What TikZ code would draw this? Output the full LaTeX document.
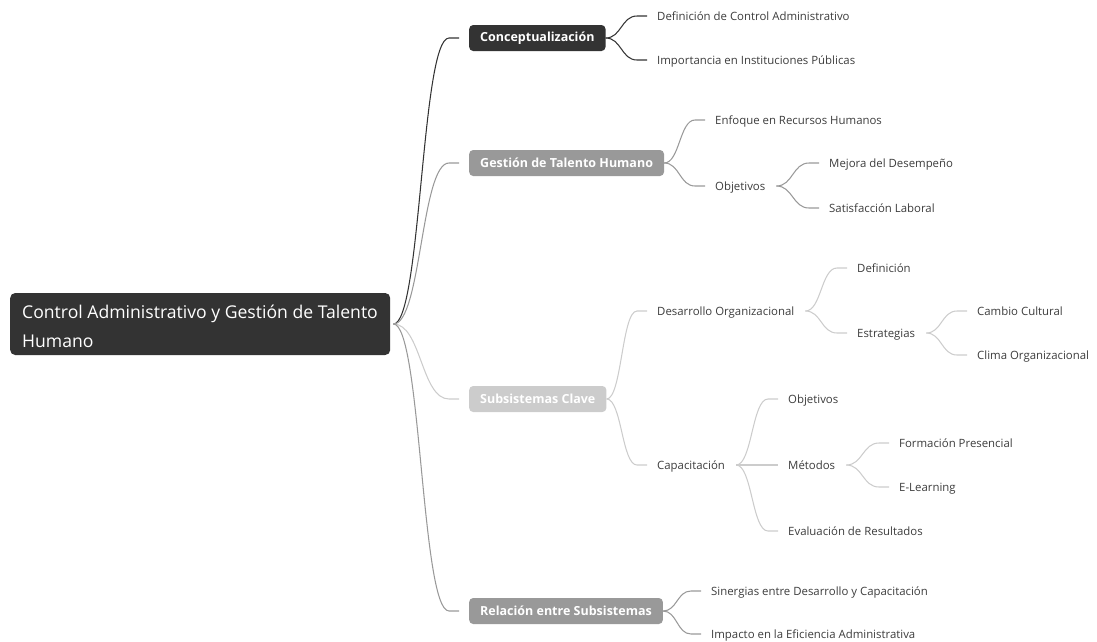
\documentclass[tikz,border=0pt]{standalone}
\usepackage{fontspec}
\setmainfont{Open Sans}
\usetikzlibrary{calc}
\definecolor{dark}{HTML}{333333}
\definecolor{mid}{HTML}{999999}
\definecolor{light}{HTML}{CCCCCC}
\definecolor{txt}{HTML}{3C3C3C}
\newcommand\linkto[3]{\draw[link=#1] let \p1=#2, \p2=($(#3.west)+(-20,0)$) in (\p1) .. controls ({0.5*\x1+0.5*\x2},\y1) and ({0.5*\x1+0.5*\x2},\y2) .. (\p2) -- ++(10,0);}
\begin{document}
\begin{tikzpicture}[x=1pt,y=-1pt,
 leaf/.style={anchor=west, inner xsep=0pt, inner ysep=2pt, text depth=0pt, text=txt, font=\fontsize{11.4}{13}\selectfont},
 branch/.style={anchor=west, fill=#1, rounded corners=4pt, inner xsep=11pt, minimum height=26pt, text=white, font=\bfseries\fontsize{12.5}{15}\selectfont},
 link/.style={draw=#1, line width=1.05pt}]
\useasboundingbox (0,0) rectangle (1097,641);
% root
\node[fill=dark, rounded corners=5pt, minimum width=380pt, minimum height=62pt, anchor=west, inner sep=0pt] (root) at (10,324) {};
\node[anchor=west, align=left, inner sep=0pt, text=white, font=\fontsize{17.6}{29}\selectfont] (roottext) at (22,326) {Control Administrativo y Gestión de Talento\\Humano};
% branches
\node[branch=dark] (conc) at (469,38) {Conceptualización};
\node[branch=mid] (gest) at (469,163) {Gestión de Talento Humano};
\node[branch=light] (subs) at (469,399) {Subsistemas Clave};
\node[branch=mid] (rel) at (469,611) {Relación entre Subsistemas};
% leaves
\node[leaf] (d1) at (657,16) {Definición de Control Administrativo};
\node[leaf] (d2) at (657,60) {Importancia en Instituciones Públicas};
\node[leaf] (g1) at (715,120) {Enfoque en Recursos Humanos};
\node[leaf] (g2) at (715,186) {Objetivos};
\node[leaf] (g21) at (829,163) {Mejora del Desempeño};
\node[leaf] (g22) at (829,208) {Satisfacción Laboral};
\node[leaf] (s1) at (657,311) {Desarrollo Organizacional};
\node[leaf] (s11) at (857,268) {Definición};
\node[leaf] (s12) at (857,333) {Estrategias};
\node[leaf] (s121) at (977,311) {Cambio Cultural};
\node[leaf] (s122) at (977,355) {Clima Organizacional};
\node[leaf] (s2) at (657,465) {Capacitación};
\node[leaf] (s21) at (788,399) {Objetivos};
\node[leaf] (s22) at (788,465) {Métodos};
\node[leaf] (s221) at (899,443) {Formación Presencial};
\node[leaf] (s222) at (899,487) {E-Learning};
\node[leaf] (s23) at (788,531) {Evaluación de Resultados};
\node[leaf] (r1) at (711,591) {Sinergias entre Desarrollo y Capacitación};
\node[leaf] (r2) at (711,634) {Impacto en la Eficiencia Administrativa};
% root connectors
\linkto{dark}{($(root.east)+(3,0)$)}{conc}
\linkto{mid}{($(root.east)+(3,0)$)}{gest}
\linkto{light}{($(root.east)+(3,0)$)}{subs}
\linkto{mid}{($(root.east)+(3,0)$)}{rel}
% conc
\linkto{dark}{(conc.east)}{d1}
\linkto{dark}{(conc.east)}{d2}
% gest
\linkto{mid}{(gest.east)}{g1}
\linkto{mid}{(gest.east)}{g2}
\linkto{mid}{($(g2.east)+(11,0)$)}{g21}
\linkto{mid}{($(g2.east)+(11,0)$)}{g22}
% subs
\linkto{light}{(subs.east)}{s1}
\linkto{light}{(subs.east)}{s2}
\linkto{light}{($(s1.east)+(11,0)$)}{s11}
\linkto{light}{($(s1.east)+(11,0)$)}{s12}
\linkto{light}{($(s12.east)+(11,0)$)}{s121}
\linkto{light}{($(s12.east)+(11,0)$)}{s122}
\linkto{light}{($(s2.east)+(11,0)$)}{s21}
\linkto{light}{($(s2.east)+(11,0)$)}{s22}
\linkto{light}{($(s2.east)+(11,0)$)}{s23}
\linkto{light}{($(s22.east)+(11,0)$)}{s221}
\linkto{light}{($(s22.east)+(11,0)$)}{s222}
% rel
\linkto{mid}{(rel.east)}{r1}
\linkto{mid}{(rel.east)}{r2}
\end{tikzpicture}
\end{document}
